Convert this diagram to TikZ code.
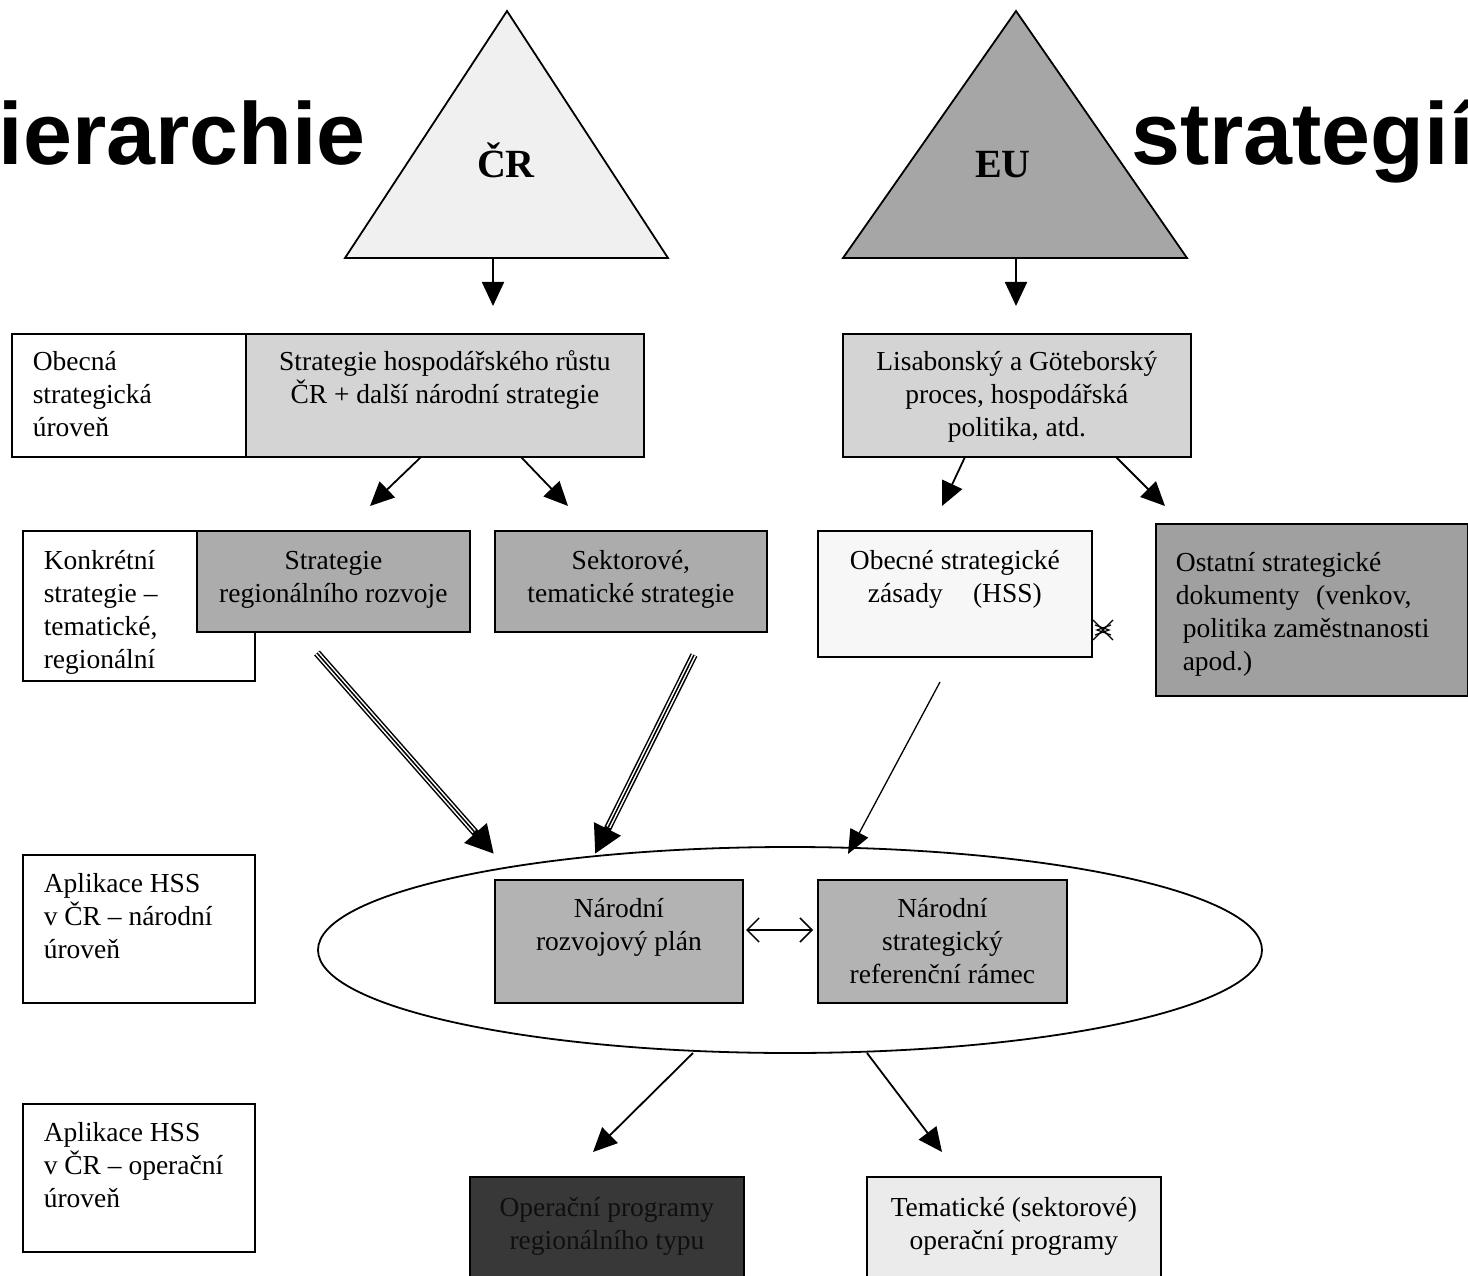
\documentclass[tikz,border=0pt]{standalone}
\usepackage{fontspec}
\setmainfont{Liberation Serif}
\newfontfamily\titlefont{Liberation Sans}
\usetikzlibrary{arrows.meta,shapes.geometric}
% \tb{width}{height}{alignment}{first-line strut}{text}
\newcommand\tb[5]{\parbox[c][#2][t]{#1}{#3\rule{0pt}{#4}#5}}
\newcommand\cen{\centering}
\newcommand\lft[1]{\raggedright\leftskip=#1\relax}
\begin{document}
\begin{tikzpicture}[x=1pt,y=-1pt,
  every node/.style={font=\fontsize{27.5}{33}\selectfont},
  bx/.style={draw, line width=1.8pt, inner sep=0pt, anchor=north west},
  lbl/.style={draw, line width=1.5pt, inner sep=0pt, anchor=north west, fill=white},
  arr/.style={line width=1.8pt, -{Triangle[length=24pt,width=22pt]}},
  tri/.style={line width=1.8pt, line join=miter},
  title/.style={inner sep=0pt, font=\titlefont\bfseries\fontsize{88}{90}\selectfont},
  trilabel/.style={inner sep=0pt, anchor=base, font=\bfseries\fontsize{40}{42}\selectfont},
  dbl/.style={line width=1.5pt, {Straight Barb[length=12pt,width=24pt]}-{Straight Barb[length=12pt,width=24pt]}}
]
\useasboundingbox (0,0) rectangle (1468,1276);
\fill[white] (0,0) rectangle (1468,1276);

% titles
\node[title, anchor=base east] (t1) at (366,165) {ierarchie};
\node[title, anchor=base west] (t2) at (1131,165) {strategií};

% triangles
\draw[tri, fill={rgb,255:red,240;green,240;blue,240}] (507,11) -- (668,258) -- (345,258) -- cycle;
\draw[tri, fill={rgb,255:red,166;green,166;blue,166}] (1016,11) -- (1187,258) -- (843,258) -- cycle;
\node[trilabel] (cr) at (506,178) {ČR};
\node[trilabel] (eu) at (1003,178) {EU};

% arrows from triangles
\coordinate (crb) at (493,259); \coordinate (crt) at (493,306);
\coordinate (eub) at (1016,259); \coordinate (eut) at (1016,306);
\draw[arr] (crb) -- (crt);
\draw[arr] (eub) -- (eut);

% row 1
\node[lbl] (l1) at (11,333) {\tb{234pt}{123pt}{\lft{21pt}}{37pt}{Obecná\\strategická\\úroveň}};
\node[bx, fill={rgb,255:red,212;green,212;blue,212}] (shr) at (245,333)
  {\tb{398pt}{123pt}{\cen}{37pt}{Strategie hospodářského růstu\\ČR + další národní strategie}};
\node[bx, fill={rgb,255:red,212;green,212;blue,212}] (lis) at (842,333)
  {\tb{348pt}{123pt}{\cen}{37pt}{Lisabonský a Göteborský\\proces, hospodářská\\politika, atd.}};

% row 1 -> row 2 arrows
\coordinate (s1) at (421,457); \coordinate (e1) at (370,506);
\coordinate (s2) at (521,457); \coordinate (e2) at (568,506);
\coordinate (s3) at (965,457); \coordinate (e3) at (942,506);
\coordinate (s4) at (1116,457); \coordinate (e4) at (1165,506);
\draw[arr] (s1) -- (e1);
\draw[arr] (s2) -- (e2);
\draw[arr] (s3) -- (e3);
\draw[arr] (s4) -- (e4);

% row 2
\node[lbl] (l2) at (22,530) {\tb{232pt}{150pt}{\lft{21pt}}{39pt}{Konkrétní\\strategie –\\tematické,\\regionální}};
\node[bx, fill={rgb,255:red,172;green,172;blue,172}] (srr) at (196,530)
  {\tb{273pt}{101pt}{\cen}{39pt}{Strategie\\regionálního rozvoje}};
\node[bx, fill={rgb,255:red,172;green,172;blue,172}] (sek) at (494,530)
  {\tb{272pt}{101pt}{\cen}{39pt}{Sektorové,\\tematické strategie}};
\node[bx, fill={rgb,255:red,247;green,247;blue,247}] (hss) at (817,530)
  {\tb{274pt}{126pt}{\cen}{39pt}{Obecné strategické\\zásady\hspace{1.1em}(HSS)}};
\node[bx, fill={rgb,255:red,160;green,160;blue,160}] (ost) at (1155,523)
  {\tb{312pt}{172pt}{\lft{20pt}}{48pt}{Ostatní strategické\\dokumenty\hspace{0.6em}(venkov,\\\hspace*{0.25em}politika zaměstnanosti\\\hspace*{0.25em}apod.)}};

% crossed marker between HSS and Ostatní
\draw[line width=1.2pt] (1093,620) -- (1113,640) (1093,640) -- (1113,620);
\draw[line width=1.2pt] (1111,625) -- (1097,630) -- (1111,635);
\draw[line width=1.2pt] (1095,625) -- (1109,630) -- (1095,635);

% triple-line arrows
\coordinate (ts1) at (317,653); \coordinate (te1) at (494,854);
\coordinate (ts2) at (694,655); \coordinate (te2) at (595,854);
\foreach \a/\b in {ts1/te1, ts2/te2}{
  \draw[line width=7.5pt, -{Triangle[length=28pt,width=28pt]}] (\a) -- (\b);
  \draw[line width=4.5pt, white, shorten >=30pt] (\a) -- (\b);
  \draw[line width=1.5pt, black, shorten >=30pt] (\a) -- (\b);
}

% HSS arrow
\coordinate (hs) at (940,682); \coordinate (he) at (848,854);
\draw[line width=1.3pt, -{Triangle[length=24pt,width=20pt]}] (hs) -- (he);

% ellipse
\node[draw, ellipse, line width=1.8pt, minimum width=944pt, minimum height=206pt, inner sep=0pt] (ell) at (790,950) {};

% left labels
\node[lbl] (l3) at (22,854) {\tb{232pt}{148pt}{\lft{21pt}}{38pt}{Aplikace HSS\\v ČR – národní\\úroveň}};
\node[lbl] (l4) at (22,1103) {\tb{232pt}{148pt}{\lft{21pt}}{38pt}{Aplikace HSS\\v ČR – operační\\úroveň}};

% boxes inside ellipse
\node[bx, fill={rgb,255:red,179;green,179;blue,179}] (nrp) at (494,879)
  {\tb{248pt}{123pt}{\cen}{38pt}{Národní\\rozvojový plán}};
\node[bx, fill={rgb,255:red,179;green,179;blue,179}] (nsr) at (817,879)
  {\tb{249pt}{123pt}{\cen}{38pt}{Národní\\strategický\\referenční rámec}};
\coordinate (da) at (746,930); \coordinate (db) at (813,930);
\draw[dbl] (da) -- (db);

% bottom arrows
\coordinate (bs1) at (693,1053); \coordinate (be1) at (593,1152);
\coordinate (bs2) at (867,1053); \coordinate (be2) at (942,1152);
\draw[arr] (bs1) -- (be1);
\draw[arr] (bs2) -- (be2);

% bottom boxes
\node[bx, fill={rgb,255:red,56;green,56;blue,56}, text={rgb,255:red,15;green,15;blue,15}] (opr) at (469,1176)
  {\tb{274pt}{110pt}{\cen}{40pt}{Operační programy\\regionálního typu}};
\node[bx, fill={rgb,255:red,235;green,235;blue,235}] (top) at (866,1176)
  {\tb{294pt}{110pt}{\cen}{40pt}{Tematické (sektorové)\\operační programy}};
\end{tikzpicture}
\end{document}
